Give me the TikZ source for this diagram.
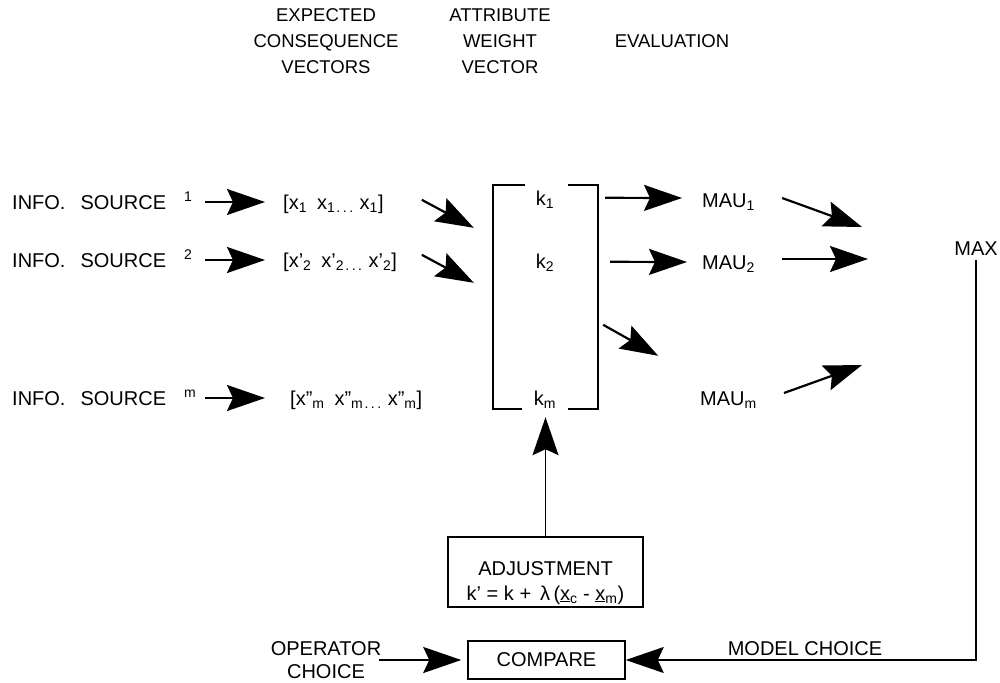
\documentclass[tikz,border=0pt]{standalone}
\usepackage{fontspec}
\setmainfont{Liberation Sans}
\usetikzlibrary{arrows.meta,calc}
\newcommand{\spdots}{\hspace{0.12em}.\hspace{0.18em}.\hspace{0.18em}.}
\begin{document}
\begin{tikzpicture}[x=1pt,y=-1pt,
  every node/.style={inner sep=0pt, font=\fontsize{20}{24}\selectfont},
  lbl/.style={anchor=base west},
  ctr/.style={anchor=base},
  head/.style={align=center, font=\fontsize{18.5}{26}\selectfont},
  arr/.style={line width=2.2pt, -{Stealth[length=38pt,width=26pt,inset=6pt]}},
  brk/.style={line width=1.6pt},
  box/.style={draw, line width=1.5pt},
]
\useasboundingbox (0,0) rectangle (1000,682);

% column headings
\node[head] (hvec) at (326,41) {EXPECTED\\CONSEQUENCE\\VECTORS};
\node[head] (hwgt) at (500,41) {ATTRIBUTE\\WEIGHT\\VECTOR};
\node[head] (heval) at (672,41.5) {EVALUATION};

% information sources
\node[lbl] (s1) at (12,209) {INFO.\hspace{0.75em}SOURCE\hspace{0.9em}\textsuperscript{1}};
\node[lbl] (s2) at (12,267) {INFO.\hspace{0.75em}SOURCE\hspace{0.9em}\textsuperscript{2}};
\node[lbl] (s3) at (12,405) {INFO.\hspace{0.75em}SOURCE\hspace{0.9em}\textsuperscript{m}};

% expected consequence vectors
\node[lbl] (v1) at (283,209) {[x\textsubscript{1}\hspace{0.5em}x\textsubscript{1\spdots}\hspace{0.3em}x\textsubscript{1}]};
\node[lbl] (v2) at (283,267) {[x'\textsubscript{2}\hspace{0.5em}x'\textsubscript{2\spdots}\hspace{0.3em}x'\textsubscript{2}]};
\node[lbl] (v3) at (290,405) {[x"\textsubscript{m}\hspace{0.5em}x"\textsubscript{m\spdots}\hspace{0.3em}x"\textsubscript{m}]};

% attribute weight vector (bracketed column)
\node[minimum width=105, minimum height=224] (wvec) at (545.5,297) {};
\draw[brk] ($(wvec.north west)+(32,0)$) -- (wvec.north west) -- (wvec.south west) -- ++(29,0);
\draw[brk] ($(wvec.north east)+(-30,0)$) -- (wvec.north east) -- (wvec.south east) -- ++(-30,0);
\node[ctr] (k1) at (545,205) {k\textsubscript{1}};
\node[ctr] (k2) at (545,268) {k\textsubscript{2}};
\node[ctr] (km) at (545,405) {k\textsubscript{m}};

% evaluations
\node[lbl] (m1) at (702,207) {MAU\textsubscript{1}};
\node[lbl] (m2) at (702,269) {MAU\textsubscript{2}};
\node[lbl] (mm) at (700,405) {MAU\textsubscript{m}};

\node[ctr] (maxn) at (976,255) {MAX};

% adjustment and comparison
\node[box, minimum width=195, minimum height=70] (adj) at (545.5,572) {};
\node[ctr] (adjt) at (545.5,575) {ADJUSTMENT};
\node[ctr] (adjf) at (545.5,600) {k' = k +\hspace{0.45em}λ\,(\underline{x}\textsubscript{c} - \underline{x}\textsubscript{m})};
\node[box, minimum width=157, minimum height=38] (cmp) at (546.5,660) {COMPARE};
\node[align=center, font=\fontsize{20}{23}\selectfont] (op) at (326,660) {OPERATOR\\CHOICE};
\node[ctr] (mc) at (805,655) {MODEL CHOICE};

% free ends of the converging arrows
\coordinate (in1) at (862,227);
\coordinate (in2) at (868,259);
\coordinate (inm) at (862,365);

% connectors: sources to vectors
\draw[arr] ($(s1.base east)+(12,-7)$) -- ($(v1.base west)+(-18,-7)$);
\draw[arr] ($(s2.base east)+(12,-7)$) -- ($(v2.base west)+(-18,-7)$);
\draw[arr] ($(s3.base east)+(9,-7)$) -- ($(v3.base west)+(-25,-7)$);

% vectors to weight vector
\draw[arr] ($(wvec.north west)+(-71,15)$) -- ($(wvec.north west)+(-19,43)$);
\draw[arr] ($(wvec.north west)+(-71,70)$) -- ($(wvec.north west)+(-19,98)$);

% weight vector to evaluations
\draw[arr] ($(wvec.north east)+(7,13)$) -- ($(m1.base west)+(-20,-9)$);
\draw[arr] ($(wvec.north east)+(12,77)$) -- ($(m2.base west)+(-15,-7)$);
\draw[arr] ($(wvec.north east)+(5,140)$) -- ($(wvec.north east)+(60,171)$);

% evaluations towards the maximum
\draw[arr] ($(m1.base east)+(27,-9)$) -- (in1);
\draw[arr] ($(m2.base east)+(27,-10)$) -- (in2);
\draw[arr] ($(mm.base east)+(27,-12)$) -- (inm);

% feedback loop
\draw[arr, line width=1.8pt] (adj.north) -- ($(wvec.south)+(0,8)$);
\draw[arr] ($(op.east)+(-2,0)$) -- ($(cmp.west)+(-6,0)$);
\draw[arr, line width=1.6pt] ($(maxn.south)+(0,5)$) |- (cmp.east);
\end{tikzpicture}
\end{document}
